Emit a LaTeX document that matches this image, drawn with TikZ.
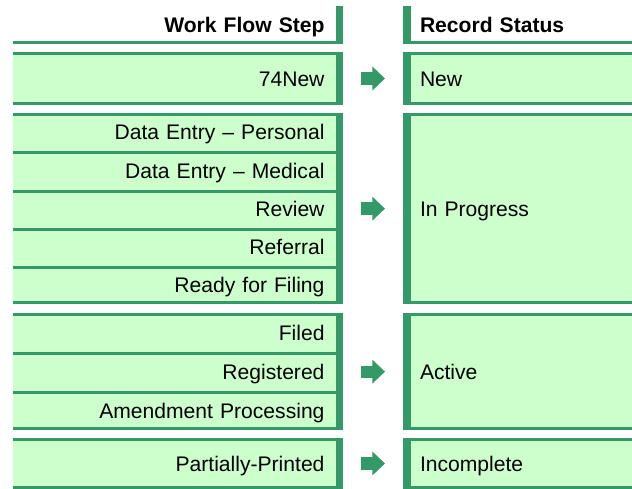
\documentclass[tikz,border=0pt]{standalone}
\usepackage{fontspec}
\setmainfont{Liberation Sans}
\usetikzlibrary{positioning,arrows.meta}
\definecolor{wfgreen}{RGB}{51,153,102}
\definecolor{wfpale}{RGB}{204,255,204}
\tikzset{
  cell/.style={inner ysep=0pt, outer sep=0pt, minimum height=#1, text height=15.1pt, text depth=0pt, font=\fontsize{21.1}{25}\selectfont},
  stepcell/.style={cell=#1, fill=wfpale, text width=293pt, inner xsep=18.5pt, align=right},
  statecell/.style={cell=#1, fill=wfpale, text width=195pt, inner xsep=17pt, align=left},
  headfont/.style={font=\fontsize{21.1}{25}\selectfont\bfseries},
  flowarrow/.style={wfgreen, line width=12.3pt, shorten <=18pt, shorten >=18pt, -{Triangle[length=12.7pt,width=23.3pt]}},
}
\begin{document}
\begin{tikzpicture}[x=1pt, y=1pt, node distance=0pt]
    \useasboundingbox (0,0) rectangle (632,-489);
    % headers
    \node[stepcell=38, fill=none, headfont, anchor=north west] (hstep) at (13,-6) {Work Flow Step};
    \node[statecell=38, fill=none, headfont, anchor=north west] (hstat) at (403,-6) {Record Status};

    % work flow steps
    \node[stepcell=53, anchor=north west] (new) at (13,-52) {74New};
    \node[stepcell=38.14, anchor=north west] (dep) at (13,-113.3) {Data Entry – Personal};
    \node[stepcell=38.14, below=of dep] (dem) {Data Entry – Medical};
    \node[stepcell=38.14, below=of dem] (rev) {Review};
    \node[stepcell=38.14, below=of rev] (ref) {Referral};
    \node[stepcell=38.14, below=of ref] (rff) {Ready for Filing};
    \node[stepcell=38.9, anchor=north west] (fil) at (13,-313.3) {Filed};
    \node[stepcell=38.9, below=of fil] (reg) {Registered};
    \node[stepcell=38.9, below=of reg] (amd) {Amendment Processing};
    \node[stepcell=51, anchor=north west] (ppr) at (13,-438) {Partially-Printed};

    % record status
    \node[statecell=53, anchor=north west] (snew) at (403,-52) {New};
    \node[statecell=190.7, anchor=north west] (sprog) at (403,-113.3) {In Progress};
    \node[statecell=116.7, anchor=north west] (sact) at (403,-313.3) {Active};
    \node[statecell=51, anchor=north west] (sinc) at (403,-438) {Incomplete};

    % rules
    \foreach \n in {new,dep,dem,rev,ref,rff,fil,reg,amd,ppr,snew,sprog,sact,sinc}
      \fill[wfgreen] (\n.north west) rectangle ([yshift=-3pt]\n.north east);
    \foreach \n in {hstep,hstat,new,rff,amd,ppr,snew,sprog,sact,sinc}
      \fill[wfgreen] (\n.south west) rectangle ([yshift=3pt]\n.south east);
    % side bars
    \foreach \a/\b in {hstep/hstep,new/new,dep/rff,fil/amd,ppr/ppr}
      \fill[wfgreen] ([xshift=-7pt]\a.north east) rectangle (\b.south east);
    \foreach \n in {hstat,snew,sprog,sact,sinc}
      \fill[wfgreen] (\n.north west) rectangle ([xshift=8pt]\n.south west);

    % arrows
    \foreach \a/\b in {new/snew,rev/sprog,reg/sact,ppr/sinc}
      \draw[flowarrow] (\b.west -| \a.east) -- (\b.west);
\end{tikzpicture}
\end{document}
